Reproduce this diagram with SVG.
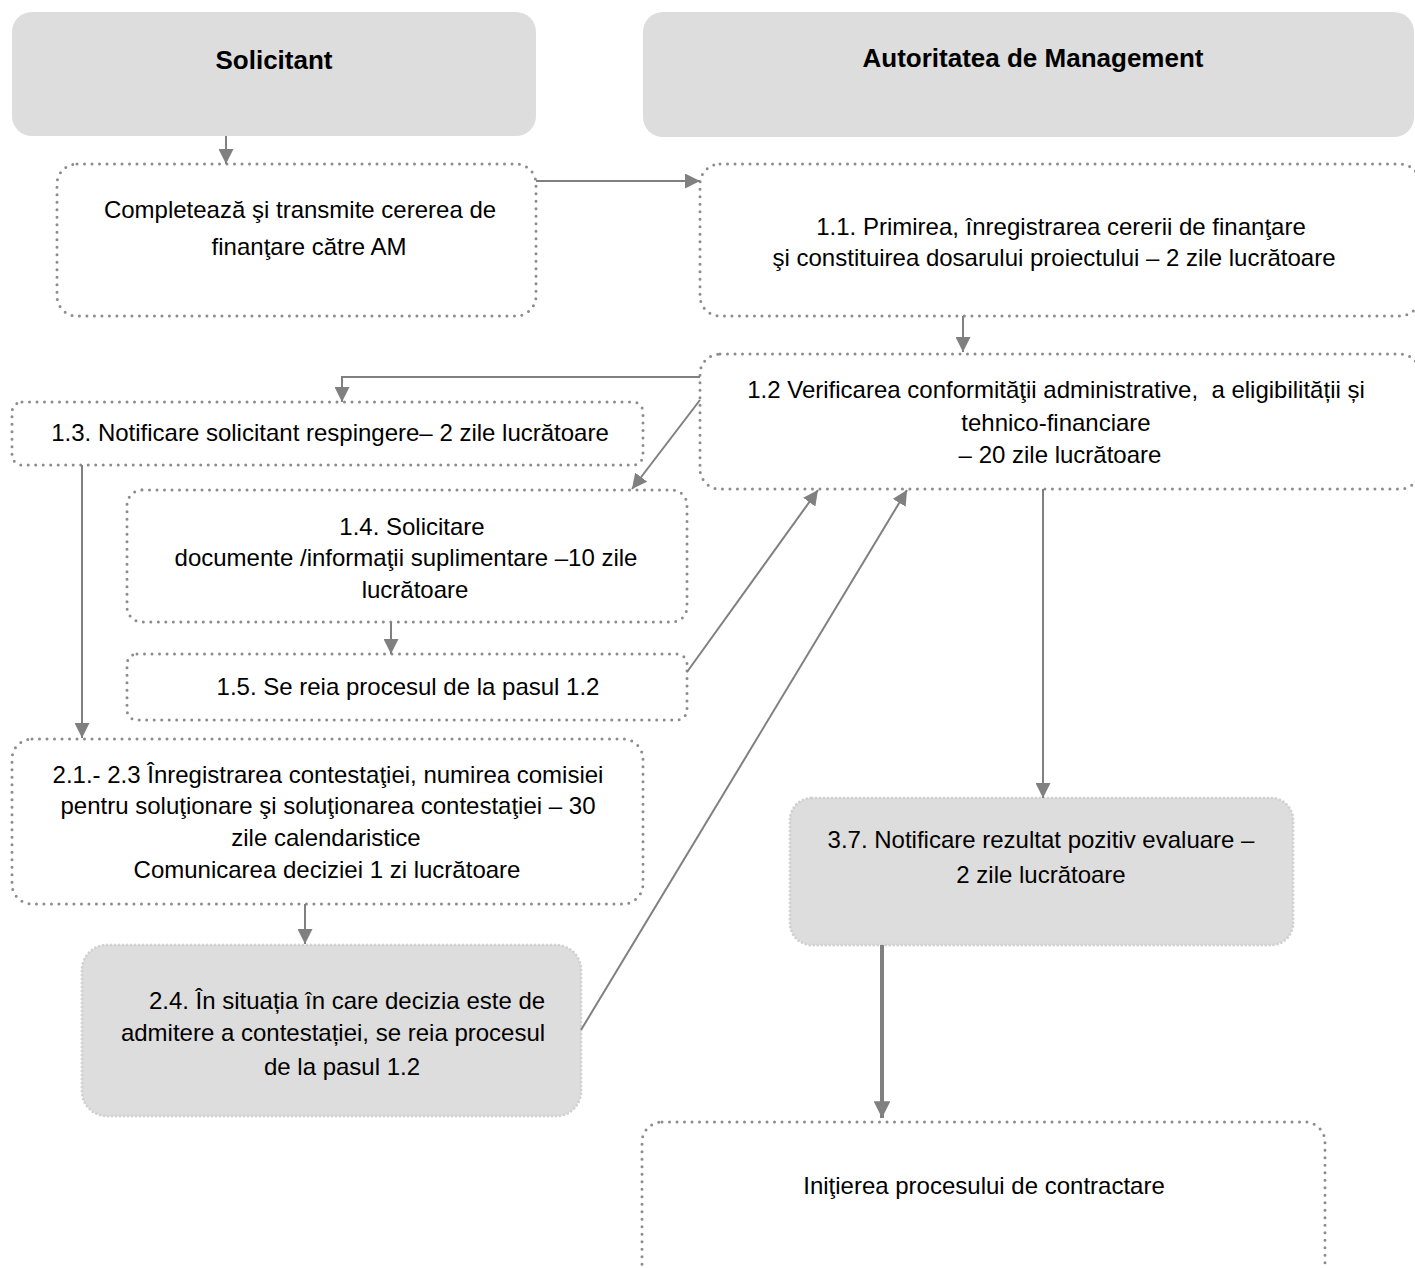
<svg xmlns="http://www.w3.org/2000/svg" width="1415" height="1268" viewBox="0 0 1415 1268">
<defs>
<style>
.hdr{fill:#dddddd;stroke:none}
.box{fill:#ffffff;stroke:#8c8c8c;stroke-width:3;stroke-dasharray:0 7.5;stroke-linecap:round}
.gbox{fill:#dddddd;stroke:#d2d2d2;stroke-width:3;stroke-dasharray:0 4;stroke-linecap:round}
.t{font-family:"Liberation Sans",Arial,sans-serif;font-size:24px;fill:#000;text-anchor:middle}
.tb{font-family:"Liberation Sans",Arial,sans-serif;font-size:26px;font-weight:bold;fill:#000;text-anchor:middle}
.c{fill:none;stroke:#808080;stroke-width:2}
</style>
<marker id="ah" viewBox="0 0 10 10" refX="10" refY="5" markerWidth="7.5" markerHeight="7.5" markerUnits="strokeWidth" orient="auto">
<path d="M0,0 L10,5 L0,10 z" fill="#808080"/>
</marker>
<marker id="ah2" viewBox="0 0 10 10" refX="10" refY="5" markerWidth="4.2" markerHeight="4.2" markerUnits="strokeWidth" orient="auto">
<path d="M0,0 L10,5 L0,10 z" fill="#808080"/>
</marker>
</defs>
<rect width="1415" height="1268" fill="#ffffff"/>

<g id="hdr-solicitant">
<rect class="hdr" x="12" y="12" width="524" height="124" rx="20"/>
<text class="tb" x="274" y="69">Solicitant</text>
</g>
<g id="hdr-am">
<rect class="hdr" x="643" y="12" width="771" height="125" rx="20"/>
<text class="tb" x="1033" y="67">Autoritatea de Management</text>
</g>

<g id="n-completeaza">
<rect class="box" x="57" y="164" width="479" height="152" rx="20"/>
<text class="t" x="300" y="218">Completează şi transmite cererea de</text>
<text class="t" x="309" y="255">finanţare către AM</text>
</g>
<g id="n-1-1">
<rect class="box" x="700" y="164" width="720" height="152" rx="20"/>
<text class="t" x="1061" y="235">1.1. Primirea, înregistrarea cererii de finanţare</text>
<text class="t" x="1054" y="266">şi constituirea dosarului proiectului – 2 zile lucrătoare</text>
</g>
<g id="n-1-2">
<rect class="box" x="700" y="354" width="720" height="135" rx="20"/>
<text class="t" x="1056" y="398" style="white-space:pre">1.2 Verificarea conformităţii administrative,  a eligibilității și</text>
<text class="t" x="1056" y="431">tehnico-financiare</text>
<text class="t" x="1060" y="463">– 20 zile lucrătoare</text>
</g>
<g id="n-1-3">
<rect class="box" x="12" y="402" width="631" height="63" rx="10"/>
<text class="t" x="330" y="441">1.3. Notificare solicitant respingere– 2 zile lucrătoare</text>
</g>
<g id="n-1-4">
<rect class="box" x="127" y="490" width="560" height="132" rx="15"/>
<text class="t" x="412" y="535">1.4. Solicitare</text>
<text class="t" x="406" y="566">documente /informaţii suplimentare –10 zile</text>
<text class="t" x="415" y="598">lucrătoare</text>
</g>
<g id="n-1-5">
<rect class="box" x="127" y="654" width="560" height="66" rx="10"/>
<text class="t" x="408" y="695">1.5. Se reia procesul de la pasul 1.2</text>
</g>
<g id="n-2-1">
<rect class="box" x="12" y="739" width="631" height="165" rx="20"/>
<text class="t" x="328" y="783">2.1.- 2.3 Înregistrarea contestaţiei, numirea comisiei</text>
<text class="t" x="328" y="814">pentru soluţionare şi soluţionarea contestaţiei – 30</text>
<text class="t" x="326" y="846">zile calendaristice</text>
<text class="t" x="327" y="878">Comunicarea deciziei 1 zi lucrătoare</text>
</g>
<g id="n-2-4">
<rect class="gbox" x="82" y="945" width="499" height="171" rx="25"/>
<text class="t" x="347" y="1009">2.4. În situația în care decizia este de</text>
<text class="t" x="333" y="1041">admitere a contestației, se reia procesul</text>
<text class="t" x="342" y="1075">de la pasul 1.2</text>
</g>
<g id="n-3-7">
<rect class="gbox" x="790" y="798" width="503" height="147" rx="22"/>
<text class="t" x="1041" y="848">3.7. Notificare rezultat pozitiv evaluare –</text>
<text class="t" x="1041" y="883">2 zile lucrătoare</text>
</g>
<g id="n-init">
<rect class="box" x="642" y="1122" width="683" height="165" rx="20"/>
<text class="t" x="984" y="1194">Iniţierea procesului de contractare</text>
</g>

<g id="connectors">
<line class="c" x1="226" y1="136" x2="226" y2="164" marker-end="url(#ah)"/>
<line class="c" x1="536" y1="181" x2="700" y2="181" marker-end="url(#ah)"/>
<line class="c" x1="963" y1="316" x2="963" y2="352" marker-end="url(#ah)"/>
<polyline class="c" points="700,377 342,377 342,402" marker-end="url(#ah)"/>
<line class="c" x1="700" y1="400" x2="632" y2="489" marker-end="url(#ah)"/>
<line class="c" x1="391" y1="622" x2="391" y2="654" marker-end="url(#ah)"/>
<line class="c" x1="687" y1="672" x2="818" y2="490" marker-end="url(#ah)"/>
<line class="c" x1="82" y1="465" x2="82" y2="738" marker-end="url(#ah)"/>
<line class="c" x1="305" y1="904" x2="305" y2="944" marker-end="url(#ah)"/>
<line class="c" x1="581" y1="1030" x2="907" y2="490" marker-end="url(#ah)"/>
<line class="c" x1="1043" y1="489" x2="1043" y2="798" marker-end="url(#ah)"/>
<line class="c" x1="882" y1="945" x2="882" y2="1118" style="stroke-width:4" marker-end="url(#ah2)"/>
</g>
</svg>
